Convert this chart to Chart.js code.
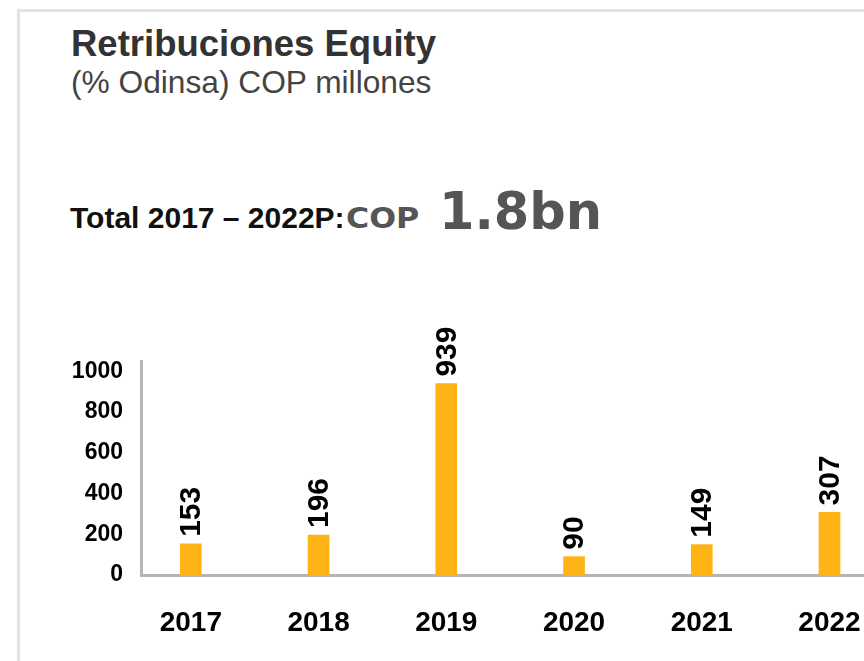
<!DOCTYPE html>
<html>
<head>
<meta charset="utf-8">
<script src="https://cdn.jsdelivr.net/npm/chart.js@4"></script>
<style>
  html, body { margin: 0; padding: 0; background: #fff; overflow: hidden; }
  #wrap { position: relative; width: 864px; height: 661px; font-family: 'Liberation Sans', Arial, sans-serif; }
  #frame { position: absolute; left: 17px; top: 9px; right: -10px; bottom: -10px; border-top: 3px solid #e2e2e2; border-left: 3px solid #e2e2e2; }
  .txt { position: absolute; white-space: nowrap; line-height: 1; }
  #title { left: 71px; top: 26px; font-size: 36.5px; font-weight: bold; color: #333; }
  #subtitle { left: 71px; top: 67px; font-size: 31.7px; color: #444; }
  #total { left: 70px; top: 203px; font-size: 30px; font-weight: bold; color: #111; }
  #cop { left: 346px; top: 204px; font-family: 'DejaVu Sans', sans-serif; font-size: 29px; font-weight: bold; color: #555; transform: scaleX(1.09); transform-origin: left center; }
  #big { left: 439px; top: 186px; font-family: 'DejaVu Sans', sans-serif; font-size: 51px; font-weight: bold; color: #555; }
  #chartBox { position: absolute; left: 0; top: 0; width: 864px; height: 661px; }
</style>
</head>
<body>
<div id="wrap">
  <div id="frame"></div>
  <div class="txt" id="title">Retribuciones Equity</div>
  <div class="txt" id="subtitle">(% Odinsa) COP millones</div>
  <div class="txt" id="total">Total 2017 – 2022P:</div>
  <div class="txt" id="cop">COP</div>
  <div class="txt" id="big">1.8bn</div>
  <div id="chartBox"><canvas id="barGraph"></canvas></div>
</div>
<script>
// datos
let years = ['2017', '2018', '2019', '2020', '2021', '2022'];
let retribuciones = [153, 196, 939, 90, 149, 307];
let yTicks = [0, 200, 400, 600, 800, 1000];

document.addEventListener('DOMContentLoaded', function() {
    barGraph();
});

function barGraph() {
    // etiquetas verticales encima de cada barra
    let valueLabels = {
        id: 'valueLabels',
        afterDatasetsDraw: function(chart) {
            let ctx = chart.ctx;
            let meta = chart.getDatasetMeta(0);
            ctx.save();
            ctx.fillStyle = '#000';
            ctx.font = 'bold 30px "Liberation Sans", Arial, sans-serif';
            ctx.textAlign = 'left';
            ctx.textBaseline = 'middle';
            meta.data.forEach(function(bar, i) {
                ctx.save();
                ctx.translate(bar.x + 1, bar.y - 7);
                ctx.rotate(-Math.PI / 2);
                ctx.fillText(String(retribuciones[i]), 0, 0);
                ctx.restore();
            });
            ctx.restore();
        }
    };

    let ctx = document.getElementById('barGraph').getContext('2d');
    new Chart(ctx, {
        type: 'bar',
        data: {
            datasets: [{
                label: 'Retribuciones',
                data: retribuciones.map((v, i) => ({ x: i, y: v })),
                backgroundColor: '#FDB414',
                borderWidth: 0,
                barThickness: 21
            }]
        },
        options: {
            responsive: true,
            maintainAspectRatio: false,
            animation: false,
            layout: { padding: { top: 361, right: 0, bottom: 0, left: 0 } },
            plugins: {
                legend: { display: false },
                tooltip: { enabled: false }
            },
            scales: {
                x: {
                    type: 'linear',
                    offset: false,
                    min: -0.39,
                    max: 5.27,
                    grid: { display: false, drawTicks: false },
                    border: { display: true, color: '#b5b5b5', width: 3 },
                    afterBuildTicks: function(scale) {
                        scale.ticks = years.map((_, i) => ({ value: i }));
                    },
                    afterFit: function(scale) {
                        scale.height = 86;
                        scale.paddingLeft = 0;
                        scale.paddingRight = 0;
                    },
                    ticks: {
                        padding: 31,
                        maxRotation: 0,
                        autoSkip: false,
                        color: '#000',
                        font: { family: '"Liberation Sans", Arial, sans-serif', size: 28, weight: 'bold' },
                        callback: function(value) { return years[value]; }
                    }
                },
                y: {
                    min: 0,
                    max: 1050,
                    grid: { display: false, drawTicks: false },
                    border: { display: true, color: '#b5b5b5', width: 3 },
                    afterBuildTicks: function(scale) {
                        scale.ticks = yTicks.map(v => ({ value: v }));
                    },
                    afterFit: function(scale) { scale.width = 141; },
                    ticks: {
                        padding: 18,
                        color: '#000',
                        font: { family: '"Liberation Sans", Arial, sans-serif', size: 23, weight: 'bold' },
                        callback: function(value) { return String(value); }
                    }
                }
            }
        },
        plugins: [valueLabels]
    });
}
</script>
</body>
</html>
